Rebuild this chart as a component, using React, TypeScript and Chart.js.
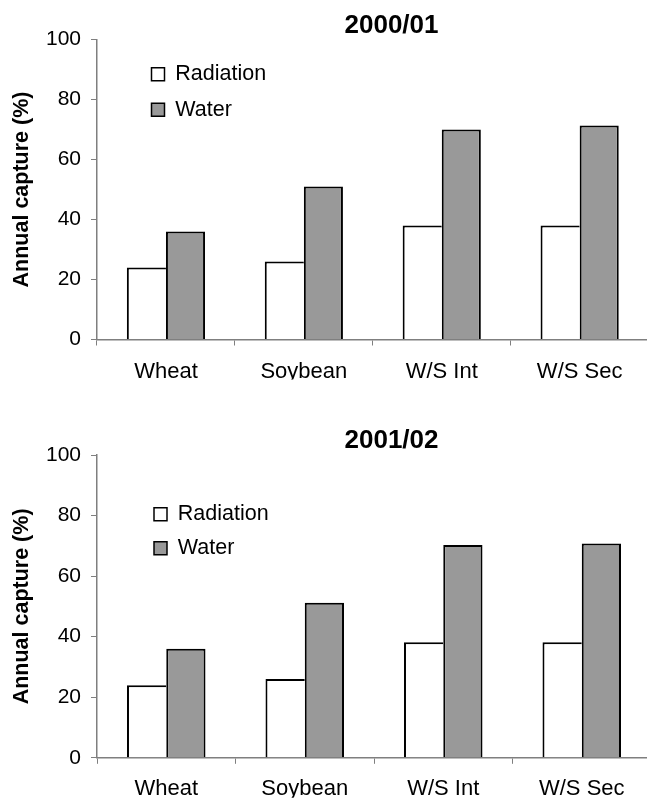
import React, { useEffect, useRef } from "react";
import { Chart, registerables } from "chart.js";

Chart.register(...registerables);

const categories = ["Wheat", "Soybean", "W/S Int", "W/S Sec"];
const radiation2000 = [24, 26, 38, 38];
const water2000 = [36, 51, 70, 71.3];
const radiation2001 = [24, 26, 38.2, 38.2];
const water2001 = [36, 51.2, 70.3, 70.8];
const yTicks = [0, 20, 40, 60, 80, 100];
const seriesNames = ["Radiation", "Water"];

const FONT = "'Liberation Sans', Arial, Helvetica, sans-serif";
const LEGEND_FONT = 21.5;

type PanelCfg = {
  title: string;
  radiation: number[];
  water: number[];
  height: number;
  titlePadTop: number;
  titlePadBottom: number;
  padBottom: number;
  rightSpace: number;
  xLabelPad: number;
  legendBoxLeft: number;
  legendItemTop: number;
  legendSpacing: number;
};

const CANVAS_W = 783;

function Panel({ cfg, top }: { cfg: PanelCfg; top: number }) {
  const ref = useRef<HTMLCanvasElement | null>(null);
  useEffect(() => {
    if (!ref.current) return;
    const legendPad = cfg.legendSpacing - LEGEND_FONT;
    const legendShift = {
      id: "legendShift",
      afterLayout(chart: any) {
        const l = chart.legend;
        if (!l) return;
        const w = l.width;
        const h = l.height;
        l.left = cfg.legendBoxLeft - legendPad;
        l.right = l.left + w;
        l.top = cfg.legendItemTop - legendPad;
        l.bottom = l.top + Math.max(h, 200);
      },
    };
    const chart = new Chart(ref.current, {
      type: "bar",
      data: {
        labels: categories,
        datasets: [
          {
            label: seriesNames[0],
            data: cfg.radiation,
            backgroundColor: "#ffffff",
            borderColor: "#000000",
            borderWidth: { top: 2, left: 2, right: 0, bottom: 0 } as any,
            borderSkipped: "bottom" as any,
            barPercentage: 1,
            categoryPercentage: 0.567,
          },
          {
            label: seriesNames[1],
            data: cfg.water,
            backgroundColor: "#999999",
            borderColor: "#000000",
            borderWidth: { top: 2, left: 2, right: 2, bottom: 0 } as any,
            borderSkipped: "bottom" as any,
            barPercentage: 1,
            categoryPercentage: 0.567,
          },
        ],
      },
      options: {
        responsive: false,
        maintainAspectRatio: false,
        animation: false,
        devicePixelRatio: 1,
        layout: {
          padding: { left: 0, top: 0, right: 0, bottom: cfg.padBottom },
        },
        plugins: {
          tooltip: { enabled: false },
          title: {
            display: true,
            text: cfg.title,
            color: "#000000",
            font: { family: FONT, size: 26, weight: "bold", lineHeight: 1.0 },
            padding: { top: cfg.titlePadTop, bottom: cfg.titlePadBottom },
          },
          legend: {
            display: true,
            position: "chartArea" as any,
            align: "start",
            labels: {
              boxWidth: 13,
              boxHeight: 13,
              padding: legendPad,
              color: "#000000",
              font: { family: FONT, size: LEGEND_FONT },
              generateLabels: (c: any) =>
                Chart.defaults.plugins.legend.labels
                  .generateLabels(c)
                  .map((it: any) => ({ ...it, lineWidth: 1.5, strokeStyle: "#000000" })),
            },
          },
        },
        scales: {
          x: {
            grid: {
              display: true,
              offset: true,
              drawOnChartArea: false,
              drawTicks: true,
              tickLength: 6,
              color: "#7f7f7f",
              lineWidth: 1,
            },
            border: { display: true, color: "#7f7f7f", width: 1.5 },
            ticks: {
              color: "#000000",
              font: { family: FONT, size: 22, lineHeight: 1.2 },
              padding: cfg.xLabelPad,
              maxRotation: 0,
              autoSkip: false,
            },
            afterFit: (s: any) => {
              s.height = 40;
            },
          },
          y: {
            min: 0,
            max: 100,
            afterBuildTicks: (s: any) => {
              s.ticks = yTicks.map((v) => ({ value: v }));
            },
            grid: {
              display: true,
              drawOnChartArea: false,
              drawTicks: true,
              tickLength: 6,
              color: "#7f7f7f",
              lineWidth: 1,
            },
            border: { display: true, color: "#7f7f7f", width: 1.5 },
            ticks: {
              color: "#000000",
              font: { family: FONT, size: 21, lineHeight: 1.2 },
              padding: 10,
            },
            title: {
              display: true,
              text: "Annual capture (%)",
              color: "#000000",
              font: { family: FONT, size: 21.5, weight: "bold", lineHeight: 1.2 },
              padding: { top: 8.8, bottom: 0 },
            },
            afterFit: (s: any) => {
              s.width = 97;
            },
          },
          yRight: {
            type: "linear",
            position: "right",
            display: true,
            min: 0,
            max: 100,
            grid: { display: false, drawTicks: false },
            border: { display: false },
            ticks: { display: false },
            afterFit: (s: any) => {
              s.width = cfg.rightSpace;
            },
          },
        },
      },
      plugins: [legendShift],
    });
    return () => chart.destroy();
  }, [cfg]);
  return (
    <div style={{ position: "absolute", left: 0, top, width: CANVAS_W, height: cfg.height }}>
      <canvas
        ref={ref}
        width={CANVAS_W}
        height={cfg.height}
        style={{ display: "block", width: CANVAS_W, height: cfg.height }}
      />
    </div>
  );
}

const topCfg: PanelCfg = {
  title: "2000/01",
  radiation: radiation2000,
  water: water2000,
  height: 400,
  titlePadTop: 13.2,
  titlePadBottom: 0.3,
  padBottom: 20.5,
  rightSpace: CANVAS_W - 648.6,
  xLabelPad: 13.6,
  legendBoxLeft: 151.5,
  legendItemTop: 63.45,
  legendSpacing: 35.5,
};

const bottomCfg: PanelCfg = {
  title: "2001/02",
  radiation: radiation2001,
  water: water2001,
  height: 399,
  titlePadTop: 28.3,
  titlePadBottom: 0.7,
  padBottom: 1.2,
  rightSpace: CANVAS_W - 651,
  xLabelPad: 11.6,
  legendBoxLeft: 154,
  legendItemTop: 103.45,
  legendSpacing: 34,
};

export default function App() {
  return (
    <div
      style={{
        position: "fixed",
        left: 0,
        top: 0,
        width: 647,
        height: 799,
        overflow: "hidden",
        background: "#ffffff",
      }}
    >
      <Panel cfg={topCfg} top={0} />
      <Panel cfg={bottomCfg} top={400} />
    </div>
  );
}
